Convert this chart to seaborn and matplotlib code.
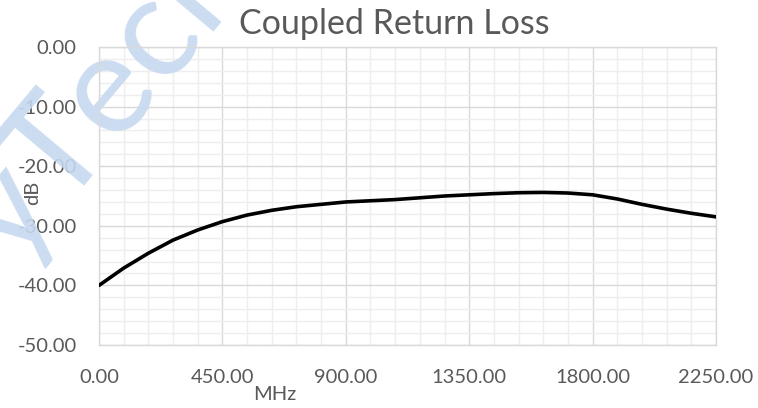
import numpy as np
import pandas as pd
import matplotlib
matplotlib.use("Agg")
import matplotlib.pyplot as plt
from matplotlib.ticker import MultipleLocator, FormatStrFormatter
import seaborn as sns

# values
freq_mhz = [0, 90, 180, 270, 360, 450, 540, 630, 720, 810, 900, 990, 1080,
            1170, 1260, 1350, 1440, 1530, 1620, 1710, 1800, 1890, 1980,
            2070, 2160, 2250]
return_loss_db = [-40.0, -37.1, -34.6, -32.4, -30.7, -29.3, -28.2, -27.4,
                  -26.8, -26.4, -26.0, -25.8, -25.6, -25.3, -25.0, -24.8,
                  -24.6, -24.45, -24.4, -24.5, -24.8, -25.5, -26.4, -27.2,
                  -27.9, -28.5]

df = pd.DataFrame({'MHz': freq_mhz, 'dB': return_loss_db})

sns.set_style('white')
plt.rcParams['font.family'] = ['Lato', 'DejaVu Sans']
txt_color = '#595959'

fig = plt.figure(figsize=(7.58, 4.08), dpi=100)
ax = fig.add_axes([99 / 758, 1 - 345 / 408, 617 / 758, 298 / 408])

# watermark (runs off the top-left of the picture, as in the original)
ax.text(106 / 758, 1 - 96 / 408, 'yTech', fontsize=102, color='#c6d9f0',
        rotation=50, ha='center', va='center', transform=fig.transFigure,
        clip_on=False, zorder=1.5, alpha=0.9)

sns.lineplot(data=df, x='MHz', y='dB', ax=ax, color='black', lw=2.6,
             zorder=5)

ax.set_xlim(0, 2250)
ax.set_ylim(-50, 0)
ax.xaxis.set_major_locator(MultipleLocator(450))
ax.xaxis.set_minor_locator(MultipleLocator(90))
ax.yaxis.set_major_locator(MultipleLocator(10))
ax.yaxis.set_minor_locator(MultipleLocator(2))
ax.xaxis.set_major_formatter(FormatStrFormatter('%.2f'))
ax.yaxis.set_major_formatter(FormatStrFormatter('%.2f'))
ax.grid(which='major', color='#d9d9d9', lw=1.0)
ax.grid(which='minor', color='#eeeeee', lw=1.0)
ax.set_axisbelow(True)
ax.patch.set_alpha(0)
for s in ax.spines.values():
    s.set_color('#d9d9d9')
    s.set_linewidth(1.0)
ax.tick_params(which='both', length=0, labelsize=14.5, labelcolor=txt_color)
ax.tick_params(axis='y', pad=16)
ax.tick_params(axis='x', pad=17)
ax.set_xlabel('')
ax.set_ylabel('')

fig.text(394 / 758, 1 - 24 / 408, 'Coupled Return Loss', fontsize=24.5,
         color=txt_color, ha='center', va='center')
fig.text(275 / 758, 1 - 394 / 408, 'MHz', fontsize=14.5, color=txt_color,
         ha='center', va='center')
fig.text(33 / 758, 1 - 193 / 408, 'dB', fontsize=14.5, color=txt_color,
         ha='center', va='center', rotation=90)

fig.savefig('out.png', dpi=100)
